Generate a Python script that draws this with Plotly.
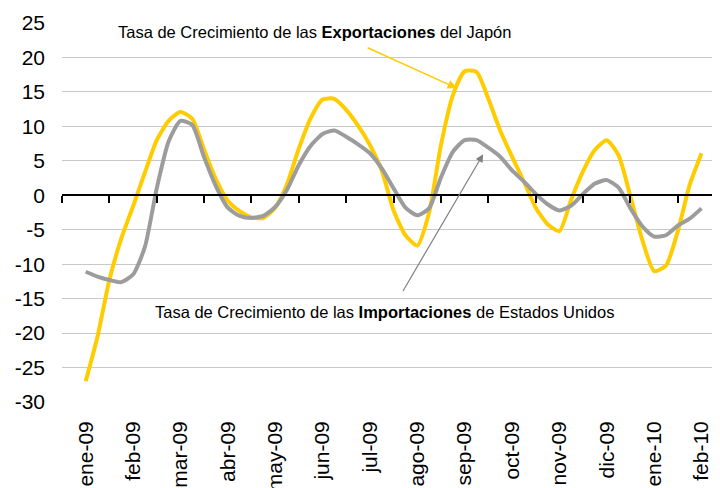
import plotly.graph_objects as go

months = ["ene-09", "feb-09", "mar-09", "abr-09", "may-09", "jun-09", "jul-09",
          "ago-09", "sep-09", "oct-09", "nov-09", "dic-09", "ene-10", "feb-10"]

# positions in month units (weekly-ish readings, 0 = ene-09)
x_pos = [i / 4 for i in range(53)]

japon_export = [
    -27.0, -20.5, -12.3, -6.3, -1.6, 3.3, 8.0, 10.8,
    12.1, 11.1, 6.6, 2.3, -0.8, -2.3, -3.2, -3.3,
    -1.8, 1.6, 6.8, 11.2, 13.9, 14.0, 12.4, 10.1,
    7.3, 3.6, -2.2, -5.8, -7.3, -2.5, 7.3, 14.5,
    18.0, 17.9, 14.0, 9.4, 5.6, 2.0, -1.8, -4.2,
    -5.2, -0.6, 3.5, 6.6, 8.0, 5.8, -0.2, -6.5,
    -11.0, -10.2, -5.2, 1.5, 6.1,
]

eeuu_import = [
    -11.1, -11.8, -12.3, -12.6, -11.5, -7.5, 1.0, 7.8,
    10.8, 10.2, 5.5, 1.3, -1.8, -3.0, -3.3, -3.0,
    -1.7, 0.8, 4.4, 7.2, 8.9, 9.4, 8.5, 7.4,
    6.1, 3.9, 1.0, -1.8, -2.9, -1.9, 2.6, 6.3,
    8.0, 8.0, 6.9, 5.6, 3.6, 2.0, 0.2, -1.3,
    -2.2, -1.5, 0.2, 1.7, 2.2, 1.1, -1.9, -4.5,
    -6.0, -5.8, -4.4, -3.4, -1.9,
]

y_ticks = [25, 20, 15, 10, 5, 0, -5, -10, -15, -20, -25, -30]

FONT = "Liberation Sans, Arial, sans-serif"
x_range = [-0.5, 13.39]
y_range = [-30, 25]

fig = go.Figure()
fig.add_trace(go.Scatter(
    x=x_pos, y=japon_export, mode="lines",
    line=dict(color="#FFCC00", width=4, shape="spline", smoothing=0.6),
    showlegend=False, hoverinfo="skip",
))
fig.add_trace(go.Scatter(
    x=x_pos, y=eeuu_import, mode="lines", xaxis="x2",
    line=dict(color="#9C9C9C", width=4, shape="spline", smoothing=0.6),
    showlegend=False, hoverinfo="skip",
))

# page body has an 8px margin, so the figure is sized to fill the rest
fig.update_layout(
    width=712, height=480,
    margin=dict(l=54, r=0, t=15, b=86, autoexpand=False),
    paper_bgcolor="white", plot_bgcolor="white",
    font=dict(family=FONT, color="black"),
    xaxis=dict(
        range=x_range, tickmode="array", automargin=False,
        tickvals=list(range(len(months))), ticktext=months,
        tickangle=-90, tickfont=dict(size=21, color="black"),
        showgrid=False, zeroline=False, showline=False, ticks="",
        ticklabelstandoff=14,
    ),
    xaxis2=dict(
        range=x_range, overlaying="x", anchor="free", automargin=False,
        position=(0 - y_range[0]) / (y_range[1] - y_range[0]),
        showline=True, linecolor="black", linewidth=1.5,
        tickmode="array", tickvals=[i - 0.5 for i in range(len(months) + 1)],
        ticks="outside", ticklen=7, tickwidth=1.5, tickcolor="black",
        showticklabels=False, showgrid=False, zeroline=False,
    ),
    yaxis=dict(
        range=y_range, tickmode="array", tickvals=y_ticks, automargin=False,
        ticktext=[str(v) for v in y_ticks],
        tickfont=dict(size=21, color="black"),
        showgrid=True, gridcolor="#C8C8C8", gridwidth=1,
        zeroline=False, showline=False, ticks="",
        ticklabelstandoff=16,
    ),
)

# labels
fig.add_annotation(
    x=0.64, y=23.7, xref="x", yref="y", xanchor="left", yanchor="middle",
    text="Tasa de Crecimiento de las <b>Exportaciones</b> del Japón",
    showarrow=False, font=dict(size=16.5, color="black", family=FONT),
)
fig.add_annotation(
    x=1.42, y=-16.9, xref="x", yref="y", xanchor="left", yanchor="middle",
    text="Tasa de Crecimiento de las <b>Importaciones</b> de Estados Unidos",
    showarrow=False, font=dict(size=16.5, color="black", family=FONT),
)
# arrows
fig.add_annotation(
    x=7.83, y=15.55, ax=5.92, ay=21.5, xref="x", yref="y", axref="x", ayref="y",
    text="", showarrow=True, arrowhead=2, arrowsize=1.2, arrowwidth=1.5,
    arrowcolor="#FFCC00",
)
fig.add_annotation(
    x=8.39, y=5.96, ax=6.68, ay=-14.1, xref="x", yref="y", axref="x", ayref="y",
    text="", showarrow=True, arrowhead=2, arrowsize=1.3, arrowwidth=1.2,
    arrowcolor="#7F7F7F",
)

fig.write_html("out.html")
